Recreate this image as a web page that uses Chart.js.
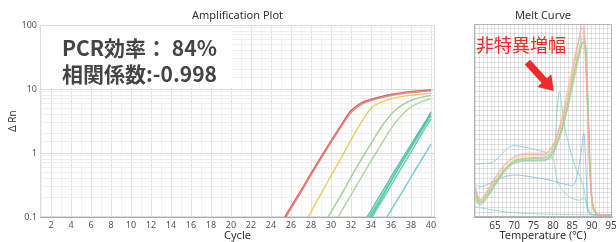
<!DOCTYPE html>
<html>
<head>
<meta charset="utf-8">
<script src="https://cdn.jsdelivr.net/npm/chart.js@4.4.1/dist/chart.umd.min.js"></script>
<style>
html,body{margin:0;padding:0;background:#fff;}
body{width:616px;height:242px;overflow:hidden;position:relative;}
#ampBox{position:absolute;left:0;top:0;width:440px;height:242px;}
#meltBox{position:absolute;left:440px;top:0;width:180px;height:242px;}
</style>
</head>
<body>
<div id="ampBox"><canvas id="amp"></canvas></div>
<div id="meltBox"><canvas id="melt"></canvas></div>
<script>
// ---------- Amplification plot data (ΔRn per cycle) ----------
const cycles = [24,25,26,27,28,29,30,31,32,33,34,35,36,37,38,39,40];
const ampRed1   = [0.043,0.079,0.145,0.26,0.48,0.87,1.55,2.7,4.6,6.0,6.9,7.6,8.2,8.7,9.1,9.4,9.7];
const ampRed2   = [0.04,0.073,0.135,0.245,0.45,0.82,1.46,2.55,4.3,5.7,6.6,7.3,7.9,8.4,8.8,9.1,9.35];
const ampYellow = [0.0096,0.018,0.033,0.063,0.12,0.23,0.44,0.83,1.6,2.95,5.0,6.2,7.0,7.6,8.0,8.3,8.6];
const ampGreen1 = [0.0025,0.0048,0.009,0.017,0.034,0.065,0.12,0.22,0.42,0.78,1.4,2.5,4.0,5.5,6.6,7.4,7.9];
const ampGreen2 = [0.0013,0.0025,0.0048,0.009,0.018,0.035,0.065,0.12,0.22,0.41,0.75,1.35,2.4,3.8,5.2,6.3,7.1];
const ampTeal1  = [0.0003,0.00057,0.001,0.0019,0.0035,0.0063,0.0115,0.021,0.038,0.069,0.126,0.23,0.42,0.76,1.35,2.4,4.1];
const ampTeal2  = [0.00027,0.0005,0.0009,0.0017,0.003,0.0055,0.01,0.018,0.033,0.061,0.112,0.2,0.37,0.67,1.2,2.15,3.8];
const ampTeal3  = [0.0002,0.0004,0.0008,0.0014,0.0026,0.0047,0.0086,0.016,0.029,0.052,0.094,0.17,0.31,0.57,1.04,1.9,3.4];
const ampTeal4  = [0.0002,0.0004,0.0007,0.0013,0.0025,0.0045,0.0083,0.015,0.028,0.053,0.1,0.19,0.36,0.68,1.25,2.3,4.4];
const ampBlue   = [0.0001,0.00017,0.0003,0.00057,0.001,0.0019,0.0035,0.0063,0.0115,0.021,0.038,0.07,0.127,0.23,0.42,0.76,1.38];
const ampYTickLabels = [0.1,1,10,100];

// ---------- Melt curve data (derivative, in thousands) ----------
const meltTemps = [60,61,62,64,66,68,70,72,74,76,78,79,80,81,82,83,84,85,86,87,87.5,88,88.5,89,89.5,90,91,92,95];
const meltB1 = [110,60,72,125,175,215,240,250,252,252,255,265,285,320,370,430,500,580,670,760,820,800,650,420,200,70,12,2,0];
const meltB2 = [120,65,78,130,180,220,245,255,258,258,260,270,295,330,385,445,520,600,680,750,780,760,620,400,190,65,10,2,0];
const meltB3 = [95,55,65,115,165,205,232,242,246,247,250,262,290,330,390,460,540,620,690,740,760,745,600,380,170,55,8,1,0];
const meltB4 = [85,50,60,108,158,198,225,235,238,240,243,252,275,305,350,410,480,560,630,690,715,722,640,430,210,75,12,2,0];
const meltB5 = [100,55,66,112,160,200,225,232,234,235,238,248,270,300,345,400,470,545,620,690,720,725,680,480,240,85,14,2,0];
const meltB6 = [75,45,55,100,150,192,218,226,228,228,230,240,262,292,335,390,455,530,605,675,710,720,700,520,260,95,16,3,0];
const meltB7 = [90,52,62,105,152,195,220,228,230,230,232,242,265,298,345,405,480,560,640,710,745,740,690,470,230,80,12,2,0];
const meltB8 = [65,40,50,95,145,188,215,223,225,225,227,236,258,290,340,400,470,550,630,700,735,730,680,460,220,75,10,2,0];
const meltS1Temps = [60,62,64,66,68,70,72,74,76,78,79,80,80.5,81,81.7,82.3,83,84,85,86,87,88,89,90,92,95];
const meltS1 = [212,215,218,240,275,290,285,278,270,262,250,240,290,420,515,450,370,300,240,190,160,110,30,3,0,0];
const meltS2Temps = [60,61,62,64,66,68,70,72,74,76,78,80,82,84,85,86,87,87.5,88,88.5,89,90,92,95];
const meltS2 = [128,118,120,135,150,162,167,165,160,155,150,142,133,125,122,150,230,290,340,200,30,3,0,0];
const meltS3Temps = [60,61,62,64,66,68,70,72,74,76,78,80,80.5,81,82,83,84,85,86,87,87.5,88,88.5,89,90,92,95];
const meltS3 = [95,62,70,115,160,200,225,232,235,236,237,238,200,150,115,95,80,70,64,62,66,70,55,15,2,0,0];
const meltS4Temps = [60,62,64,66,68,70,74,78,82,86,90,95];
const meltS4 = [35,28,22,17,13,10,6,4,3,2,1,0];

Chart.defaults.font.family = "'Noto Sans','Noto Sans CJK JP',sans-serif";
Chart.defaults.animation = false;

function pts(xs, ys, k) { return xs.map((x, i) => ({x: x, y: ys[i] * (k || 1)})); }

// ---------- Amplification chart ----------
const ampDefs = [
  [ampRed2, 'rgba(228,130,120,0.9)'],
  [ampRed1, 'rgba(214,92,84,0.95)'],
  [ampYellow, 'rgba(226,206,96,0.95)'],
  [ampGreen1, 'rgba(160,208,146,0.95)'],
  [ampGreen2, 'rgba(172,214,160,0.95)'],
  [ampTeal1, 'rgba(80,196,164,0.95)'],
  [ampTeal2, 'rgba(90,200,170,0.95)'],
  [ampTeal3, 'rgba(100,204,178,0.95)'],
  [ampTeal4, 'rgba(84,194,168,0.95)'],
  [ampBlue, 'rgba(118,200,214,0.95)']
];

function isDecade(v) { const l = Math.log10(v); return Math.abs(l - Math.round(l)) < 1e-9; }

const ampPlugin = {
  id: 'ampDeco',
  beforeDatasetsDraw(chart) {
    const ctx = chart.ctx, a = chart.chartArea, xs = chart.scales.x, ys = chart.scales.y;
    ctx.save();
    ctx.strokeStyle = '#dddddd'; ctx.lineWidth = 1;
    ctx.strokeRect(a.left + 0.5, a.top + 0.5, a.right - a.left - 1, a.bottom - a.top - 1);
    const bx1 = xs.getPixelForValue(20.1), by1 = ys.getPixelForValue(10.4);
    ctx.fillStyle = '#ffffff';
    ctx.fillRect(a.left + 1, a.top + 1, bx1 - a.left - 1, by1 - a.top - 1);
    ctx.fillStyle = '#444444';
    ctx.font = "bold 21px 'Noto Sans CJK JP'";
    ctx.textAlign = 'left'; ctx.textBaseline = 'middle';
    ctx.fillText('PCR効率： 84%', a.left + 22, a.top + 23);
    ctx.fillText('相関係数:-0.998', a.left + 22, a.top + 49);
    ctx.restore();
  },
  afterDraw(chart) {
    const ctx = chart.ctx, a = chart.chartArea;
    ctx.save();
    ctx.fillStyle = '#333'; ctx.font = "11px 'Noto Sans'";
    ctx.textAlign = 'center'; ctx.textBaseline = 'middle';
    ctx.fillText('Amplification Plot', (a.left + a.right) / 2, 16);
    ctx.restore();
  }
};

new Chart(document.getElementById('amp'), {
  type: 'line',
  data: {
    datasets: ampDefs.map(d => ({
      data: pts(cycles, d[0]),
      borderColor: d[1], borderWidth: 1.5, pointRadius: 0,
      cubicInterpolationMode: 'monotone', fill: false
    }))
  },
  options: {
    responsive: true, maintainAspectRatio: false,
    layout: {padding: {left: 0, right: 5, top: 25, bottom: 0}},
    plugins: {legend: {display: false}, tooltip: {enabled: false}},
    scales: {
      x: {
        type: 'linear', min: 0.9, max: 40.4,
        afterFit(s) { s.height = 25; },
        border: {color: '#aaaaaa'},
        grid: {drawTicks: false, color: c => (c.tick && Number.isInteger(c.tick.value) ? (c.tick.value % 2 === 0 ? '#e4e4e4' : '#f2f2f2') : '#dddddd')},
        ticks: {stepSize: 1, includeBounds: false, autoSkip: false, maxRotation: 0, padding: 3, color: '#555', font: {size: 9},
          callback: v => (Number.isInteger(v) && v % 2 === 0 && v >= 2 && v <= 40 ? String(v) : '')},
        title: {display: true, text: 'Cycle', color: '#333', font: {size: 11}, padding: {top: 0, bottom: 0}}
      },
      y: {
        type: 'logarithmic', min: 0.1, max: 100,
        afterFit(s) { s.width = 40; },
        border: {color: '#aaaaaa'},
        grid: {drawTicks: false, color: c => (c.tick && isDecade(c.tick.value) ? '#dadada' : '#eeeeee')},
        ticks: {autoSkip: false, padding: 3, color: '#555', font: {size: 9},
          callback: v => (ampYTickLabels.some(t => Math.abs(t - v) < 1e-9) ? String(v) : '')},
        title: {display: true, text: 'Δ Rn', color: '#333', font: {size: 10}, padding: {top: 7, bottom: 0}}
      }
    }
  },
  plugins: [ampPlugin]
});

// ---------- Melt chart ----------
const meltDefs = [
  [meltTemps, meltB1, 'rgba(240,160,180,0.75)'],
  [meltTemps, meltB2, 'rgba(240,178,140,0.75)'],
  [meltTemps, meltB3, 'rgba(236,200,130,0.75)'],
  [meltTemps, meltB4, 'rgba(196,190,90,0.8)'],
  [meltTemps, meltB5, 'rgba(178,218,150,0.75)'],
  [meltTemps, meltB6, 'rgba(140,206,140,0.75)'],
  [meltTemps, meltB7, 'rgba(170,222,190,0.75)'],
  [meltTemps, meltB8, 'rgba(130,206,180,0.7)'],
  [meltS1Temps, meltS1, 'rgba(120,204,204,0.75)'],
  [meltS2Temps, meltS2, 'rgba(126,184,224,0.8)'],
  [meltS3Temps, meltS3, 'rgba(128,208,196,0.75)'],
  [meltS4Temps, meltS4, 'rgba(146,204,226,0.8)']
];

const meltPlugin = {
  id: 'meltDeco',
  beforeDatasetsDraw(chart) {
    const ctx = chart.ctx, a = chart.chartArea;
    ctx.save();
    ctx.strokeStyle = '#b5b5b5'; ctx.lineWidth = 1;
    ctx.strokeRect(a.left + 0.5, a.top + 0.5, a.right - a.left - 1, a.bottom - a.top - 1);
    ctx.restore();
  },
  afterDraw(chart) {
    const ctx = chart.ctx, a = chart.chartArea, xs = chart.scales.x, ys = chart.scales.y;
    ctx.save();
    ctx.fillStyle = '#333'; ctx.font = "11px 'Noto Sans'";
    ctx.textAlign = 'center'; ctx.textBaseline = 'middle';
    ctx.fillText('Melt Curve', (a.left + a.right) / 2, 16);
    ctx.fillStyle = '#ee2b2b'; ctx.font = "18px 'Noto Sans CJK JP'";
    ctx.textAlign = 'left';
    ctx.fillText('非特異増幅', xs.getPixelForValue(60.1), ys.getPixelForValue(708000));
    const tx = xs.getPixelForValue(73.4), ty = ys.getPixelForValue(637000);
    const hx = xs.getPixelForValue(80.2), hy = ys.getPixelForValue(517000);
    const dx = hx - tx, dy = hy - ty, L = Math.hypot(dx, dy);
    const ux = dx / L, uy = dy / L, nx = -uy, ny = ux;
    const sw = 3.6, hw = 9.5, hl = 14;
    const bx = hx - ux * hl, by = hy - uy * hl;
    ctx.beginPath();
    ctx.moveTo(tx + nx * sw, ty + ny * sw);
    ctx.lineTo(bx + nx * sw, by + ny * sw);
    ctx.lineTo(bx + nx * hw, by + ny * hw);
    ctx.lineTo(hx, hy);
    ctx.lineTo(bx - nx * hw, by - ny * hw);
    ctx.lineTo(bx - nx * sw, by - ny * sw);
    ctx.lineTo(tx - nx * sw, ty - ny * sw);
    ctx.closePath();
    ctx.fillStyle = '#ee2b2b';
    ctx.fill();
    ctx.restore();
  }
};

new Chart(document.getElementById('melt'), {
  type: 'line',
  data: {
    datasets: meltDefs.map(d => ({
      data: pts(d[0], d[1], 1000),
      borderColor: d[2], borderWidth: 1, pointRadius: 0,
      cubicInterpolationMode: 'monotone', fill: false
    }))
  },
  options: {
    responsive: true, maintainAspectRatio: false,
    layout: {padding: {left: 0, right: 8, top: 24, bottom: 0}},
    plugins: {legend: {display: false}, tooltip: {enabled: false}},
    scales: {
      x: {
        type: 'linear', min: 59.6, max: 95.25,
        afterFit(s) { s.height = 25; },
        border: {color: '#aaaaaa'},
        grid: {drawTicks: false, color: 'rgba(0,0,0,0.11)'},
        ticks: {stepSize: 1, includeBounds: false, autoSkip: false, maxRotation: 0, padding: 3, color: '#444', font: {size: 10},
          callback: v => (Number.isInteger(v) && v % 5 === 0 && v >= 65 ? String(v) : '')},
        title: {display: true, text: 'Temperature (℃)', color: '#333', font: {size: 11}, padding: {top: 0, bottom: 0}}
      },
      y: {
        type: 'linear', min: -8000, max: 796000,
        afterFit(s) { s.width = 34; },
        border: {color: '#aaaaaa'},
        grid: {drawTicks: false, color: 'rgba(0,0,0,0.11)'},
        ticks: {stepSize: 20000, includeBounds: false, autoSkip: false, padding: 6, color: '#777', font: {size: 4},
          callback: v => (v > 0 && v % 100000 === 0 ? v.toFixed(1) : '')}
      }
    }
  },
  plugins: [meltPlugin]
});
</script>
</body>
</html>
